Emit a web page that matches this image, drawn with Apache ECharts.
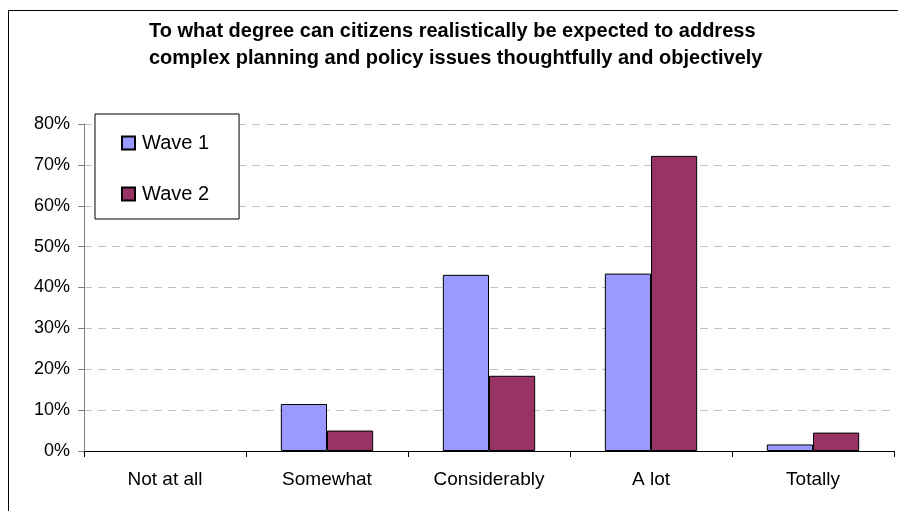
<!DOCTYPE html>
<html>
<head>
<meta charset="utf-8">
<script src="https://cdn.jsdelivr.net/npm/echarts@6/dist/echarts.min.js"></script>
<style>
  html, body { margin: 0; padding: 0; background: #fff; }
  #chart { width: 898px; height: 511px; }
</style>
</head>
<body>
<div id="chart"></div>
<script>
// Survey answers, shares of respondents per wave (%)
const categories = ['Not at all', 'Somewhat', 'Considerably', 'A lot', 'Totally'];
const wave1 = [0, 11.5, 43.1, 43.4, 1.6];
const wave2 = [0, 5.0, 18.4, 72.2, 4.5];
const yTicks = { min: 0, max: 80, interval: 10 };
const titleLines = [
  'To what degree can citizens realistically be expected to address',
  'complex planning and policy issues thoughtfully and objectively'
];

const chart = echarts.init(document.getElementById('chart'), null, { renderer: 'canvas' });

const FONT = 'Liberation Sans, Arial, sans-serif';

// Zero-height answers get no outline, so nothing is drawn for them
const toBarData = (values) => values.map(v =>
  v === 0 ? { value: v, itemStyle: { borderWidth: 0 } } : v
);

const barStyle = (color) => ({
  color: color,
  borderColor: '#000',
  borderWidth: 1
});

chart.setOption({
  animation: false,
  backgroundColor: '#fff',
  textStyle: { fontFamily: FONT },
  graphic: [{
    type: 'rect',
    shape: { x: 8.5, y: 10.5, width: 920, height: 520 },
    style: { fill: 'none', stroke: '#000', lineWidth: 1 },
    silent: true,
    z: -10
  }],
  title: {
    text: titleLines.join('\n'),
    left: 144,
    top: 13,
    textStyle: {
      fontFamily: FONT,
      fontSize: 20,
      fontWeight: 'bold',
      color: '#000',
      lineHeight: 27,
      align: 'center'
    }
  },
  legend: {
    orient: 'vertical',
    left: 95,
    top: 114,
    padding: [19, 30, 15, 26],
    itemWidth: 13,
    itemHeight: 13,
    itemGap: 31,
    backgroundColor: '#fff',
    borderColor: '#000',
    borderWidth: 1,
    borderRadius: 0,
    icon: 'rect',
    textStyle: { fontSize: 20, color: '#000', fontFamily: FONT, padding: [0, 0, 0, 2] },
    data: ['Wave 1', 'Wave 2']
  },
  grid: { left: 84, right: 4, top: 124, bottom: 60, containLabel: false },
  xAxis: {
    type: 'category',
    data: categories,
    boundaryGap: true,
    axisLine: { lineStyle: { color: '#000', width: 1 } },
    axisTick: { show: true, length: 6, alignWithLabel: false, lineStyle: { color: '#000' } },
    axisLabel: { fontSize: 19, color: '#000', margin: 19, interval: 0 },
    splitLine: { show: false }
  },
  yAxis: {
    type: 'value',
    min: yTicks.min,
    max: yTicks.max,
    interval: yTicks.interval,
    axisLine: { show: true, lineStyle: { color: '#808080', width: 1 } },
    axisTick: { show: true, length: 6, lineStyle: { color: '#808080' } },
    axisLabel: { fontSize: 18, color: '#000', margin: 14, formatter: '{value}%' },
    splitLine: { show: true, lineStyle: { color: '#c0c0c0', type: [8, 6], width: 1 } }
  },
  series: [
    {
      name: 'Wave 1',
      type: 'bar',
      data: toBarData(wave1),
      barGap: '0%',
      barCategoryGap: '43%',
      itemStyle: barStyle('#9999ff')
    },
    {
      name: 'Wave 2',
      type: 'bar',
      data: toBarData(wave2),
      barGap: '0%',
      barCategoryGap: '43%',
      itemStyle: barStyle('#993366')
    }
  ]
});
</script>
</body>
</html>
